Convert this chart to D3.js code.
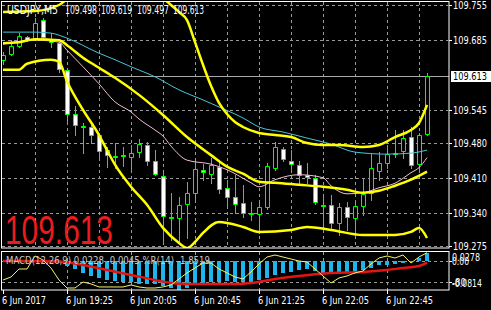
<!DOCTYPE html>
<html>
<head>
<meta charset="utf-8">
<script src="https://cdn.jsdelivr.net/npm/d3@7"></script>
<style>
body{margin:0;background:#000;}
svg{display:block;font-family:"DejaVu Sans",sans-serif;}
</style>
</head>
<body>
<script>
// bars, 5 min each, 18:45 .. 23:10
const opens  = [109.645,109.657,109.673,109.691,109.687,109.725,109.687,109.679,109.625,109.538,109.514,109.512,109.496,109.466,109.454,109.456,109.452,109.462,109.476,109.444,109.414,109.332,109.330,109.358,109.380,109.426,109.418,109.432,109.390,109.372,109.360,109.340,109.338,109.352,109.430,109.468,109.444,109.436,109.416,109.410,109.356,109.356,109.320,109.352,109.330,109.354,109.380,109.424,109.440,109.458,109.464,109.492,109.438,109.498];
const highs  = [109.661,109.685,109.699,109.693,109.729,109.729,109.699,109.681,109.629,109.554,109.520,109.516,109.500,109.472,109.480,109.472,109.476,109.488,109.482,109.466,109.424,109.380,109.372,109.402,109.446,109.438,109.450,109.440,109.406,109.416,109.397,109.362,109.366,109.440,109.482,109.472,109.466,109.444,109.440,109.416,109.376,109.376,109.360,109.362,109.362,109.410,109.458,109.462,109.476,109.506,109.506,109.512,109.500,109.619];
const lows   = [109.637,109.655,109.671,109.683,109.685,109.689,109.671,109.621,109.520,109.496,109.460,109.480,109.448,109.432,109.430,109.434,109.422,109.452,109.436,109.416,109.280,109.286,109.280,109.290,109.364,109.406,109.400,109.380,109.352,109.340,109.332,109.326,109.300,109.348,109.426,109.444,109.426,109.400,109.400,109.358,109.312,109.306,109.296,109.306,109.295,109.336,109.366,109.406,109.430,109.452,109.450,109.430,109.424,109.497];
const closes = [109.655,109.673,109.693,109.685,109.719,109.691,109.681,109.627,109.538,109.516,109.512,109.496,109.464,109.456,109.452,109.454,109.460,109.478,109.444,109.418,109.334,109.330,109.356,109.380,109.428,109.422,109.436,109.388,109.372,109.358,109.340,109.338,109.352,109.434,109.472,109.448,109.438,109.416,109.412,109.362,109.354,109.320,109.352,109.332,109.354,109.378,109.430,109.440,109.458,109.460,109.490,109.436,109.496,109.613];

// indicator lines, [bar, value]
const bbUpper = [[0,109.741],[4,109.743],[7,109.755],[8,109.767],[10,109.800],[12,109.818],[14,109.825],[16,109.815],[18,109.795],[20,109.769],[21,109.755],[22,109.741],[23,109.725],[24,109.681],[25,109.636],[26,109.594],[27,109.560],[28,109.538],[29,109.522],[30,109.512],[32,109.500],[34,109.496],[36,109.492],[38,109.480],[40,109.476],[42,109.476],[45,109.472],[47,109.476],[49,109.492],[51,109.506],[52,109.520],[53,109.556]];
const bbMiddle = [[0,109.679],[2,109.681],[4,109.687],[7,109.685],[8,109.675],[10,109.650],[12,109.630],[14,109.610],[17,109.576],[20,109.536],[23,109.492],[26,109.456],[28,109.433],[30,109.419],[32,109.403],[34,109.401],[37,109.397],[40,109.393],[43,109.387],[45,109.381],[47,109.385],[49,109.395],[51,109.407],[53,109.423]];
const bbLower = [[0,109.626],[2,109.626],[3,109.638],[6,109.646],[7,109.642],[8,109.603],[10,109.546],[12,109.496],[13,109.466],[14,109.437],[16,109.393],[18,109.357],[20,109.311],[22,109.281],[23,109.271],[24,109.283],[25,109.301],[27,109.323],[30,109.313],[32,109.303],[36,109.307],[38,109.313],[41,109.307],[45,109.297],[49,109.297],[51,109.303],[52,109.311],[53,109.291]];
const maCyan = [[0,109.701],[4,109.701],[6,109.699],[8,109.689],[12,109.659],[14,109.646],[16,109.632],[19,109.612],[22,109.586],[25,109.566],[27,109.552],[30,109.530],[32,109.512],[35,109.502],[38,109.490],[41,109.478],[44,109.462],[48,109.458],[51,109.460],[53,109.466]];
const maPink = [[0,109.677],[4,109.685],[7,109.681],[8,109.665],[10,109.632],[12,109.598],[14,109.562],[16,109.542],[17,109.528],[19,109.506],[20,109.494],[21,109.474],[23,109.446],[26,109.438],[28,109.427],[31,109.401],[32,109.393],[34,109.407],[37,109.417],[40,109.411],[41,109.395],[43,109.379],[45,109.381],[47,109.391],[49,109.400],[51,109.421],[52,109.431],[53,109.451]];

// MACD(12,26,9) histogram per bar, signal [bar, value], %R(14) per bar
const macdHist = [0.001,0.001,0.002,0.002,0.003,0.003,0.002,-0.003,-0.0140,-0.0224,-0.0336,-0.0406,-0.0476,-0.0518,-0.0546,-0.0588,-0.0588,-0.0644,-0.0630,-0.0644,-0.0686,-0.0742,-0.0814,-0.0756,-0.0672,-0.0616,-0.0602,-0.0574,-0.0560,-0.0574,-0.0588,-0.0588,-0.0532,-0.0462,-0.0378,-0.0350,-0.0294,-0.0238,-0.0210,-0.0280,-0.0336,-0.0336,-0.0336,-0.0336,-0.0308,-0.0252,-0.0196,-0.0112,-0.0112,-0.0070,-0.0042,-0.0014,0.0084,0.0228];
const macdSignal = [[0,0.0],[7,-0.0014],[10,-0.0112],[13,-0.0252],[16,-0.0392],[19,-0.0532],[21,-0.0616],[23,-0.0644],[29,-0.0644],[31,-0.0616],[34,-0.0504],[37,-0.0420],[41,-0.0336],[45,-0.0308],[48,-0.0252],[50,-0.0196],[52,-0.0140],[53,-0.0045]];
const williamsR = [-73.7,-65.8,-44.7,-44.7,-10.5,-21,-42,-73.7,-94.7,-94.7,-79,-84,-92,-92,-92,-92,-86.8,-92,-94.7,-94.7,-92,-86.8,-71,-55,-42,-29,-29,-44.7,-55,-65.8,-71,-52.6,-31.6,-13.2,-7.9,-13.2,-18.4,-23.7,-26.3,-44.7,-63,-81.6,-68.4,-63,-55,-50,-31.6,-15.8,-10.5,-15.8,-7.9,-29,-13.2,-1.85];

const priceTicks = [109.755,109.685,109.545,109.480,109.410,109.340,109.275];
const bidPrice = 109.613;
const timeBars = [0,8,16,24,32,40,48];
const timeLabels = ["6 Jun 2017","6 Jun 19:25","6 Jun 20:05","6 Jun 20:45","6 Jun 21:25","6 Jun 22:05","6 Jun 22:45"];
const headerParts = ["USDJPY,M5","109.498","109.619","109.497","109.613"];
const macdLabel = "MACD(12,26,9) 0.0228 -0.0045 %R(14) -1.8519";

const W = 491, H = 310;
const gridCol = "#9a9a9a";

const svg = d3.select("body").append("svg")
  .attr("width", W).attr("height", H);

svg.append("rect").attr("width", W).attr("height", H).attr("fill", "#000");

const x = d3.scaleLinear().domain([0, 53]).range([3, 427]);
const y = d3.scaleLinear().domain([109.275, 109.755]).range([246, 5]);
const ym = d3.scaleLinear().domain([-0.0814, 0.0278]).range([290, 251]);
const yr = d3.scaleLinear().domain([-100, 0]).range([290, 252]);

const defs = svg.append("defs");
defs.append("clipPath").attr("id", "clipMain")
  .append("rect").attr("x", 2).attr("y", 2).attr("width", 447).attr("height", 246);
defs.append("clipPath").attr("id", "clipSub")
  .append("rect").attr("x", 2).attr("y", 252).attr("width", 447).attr("height", 38);

const main = svg.append("g").attr("clip-path", "url(#clipMain)");

// grid
main.selectAll(".hgrid").data(priceTicks).enter().append("line")
  .attr("x1", 2).attr("x2", 448)
  .attr("y1", d => Math.round(y(d)) + 0.5).attr("y2", d => Math.round(y(d)) + 0.5)
  .attr("stroke", gridCol).attr("stroke-dasharray", "3,3");

const vBars = d3.range(4, 54, 4);
main.selectAll(".vgrid").data(vBars).enter().append("line")
  .attr("x1", d => Math.round(x(d)) + 0.5).attr("x2", d => Math.round(x(d)) + 0.5)
  .attr("y1", 2).attr("y2", 248)
  .attr("stroke", gridCol).attr("stroke-dasharray", "3,3");

// bid line
main.append("line")
  .attr("x1", 2).attr("x2", 449)
  .attr("y1", Math.round(y(bidPrice)) + 0.5).attr("y2", Math.round(y(bidPrice)) + 0.5)
  .attr("stroke", "#a8a8a8");

// candles
const bars = d3.range(opens.length);
const cg = main.append("g");
cg.selectAll(".wick").data(bars).enter().append("line")
  .attr("x1", i => Math.round(x(i)) + 0.5).attr("x2", i => Math.round(x(i)) + 0.5)
  .attr("y1", i => Math.round(y(highs[i]))).attr("y2", i => Math.round(y(lows[i])) + 1)
  .attr("stroke", "#00ff00");

cg.selectAll(".body").data(bars).enter().append("path")
  .attr("d", i => {
    const cx = Math.round(x(i));
    const t = Math.round(y(Math.max(opens[i], closes[i]))) + 0.5;
    const b = Math.round(y(Math.min(opens[i], closes[i]))) + 0.5;
    return `M${cx - 1.5},${t}H${cx + 2.5}V${b}H${cx - 1.5}Z`;
  })
  .attr("fill", i => closes[i] >= opens[i] ? "#000" : "#fff")
  .attr("stroke", "#00ff00");

// indicators
const line = d3.line().x(d => x(d[0])).y(d => y(d[1])).curve(d3.curveMonotoneX);
main.append("path").datum(maCyan).attr("d", line)
  .attr("fill", "none").attr("stroke", "#46c6d6").attr("stroke-width", 1);
main.append("path").datum(maPink).attr("d", line)
  .attr("fill", "none").attr("stroke", "#eebdd0").attr("stroke-width", 1);
[bbUpper, bbMiddle, bbLower].forEach(s => {
  main.append("path").datum(s).attr("d", line)
    .attr("fill", "none").attr("stroke", "#ffff00").attr("stroke-width", 2.5)
    .attr("stroke-linejoin", "round");
});

// big price
svg.append("text")
  .attr("x", 5).attr("y", 244)
  .attr("font-family", "'Liberation Sans', Arial, sans-serif")
  .attr("font-size", 41)
  .attr("textLength", 108).attr("lengthAdjust", "spacingAndGlyphs")
  .attr("fill", "#ec1c1c")
  .text(bidPrice.toFixed(3));

// header
const headerX = [7, 65, 101, 137, 173];
const headerLen = [51, 32, 31, 32, 31];
svg.selectAll(".hdr").data(headerParts).enter().append("text")
  .attr("x", (d, i) => headerX[i]).attr("y", 14)
  .attr("font-size", 11.5)
  .attr("textLength", (d, i) => headerLen[i]).attr("lengthAdjust", "spacingAndGlyphs")
  .attr("fill", "#fff")
  .text(d => d);

// frames
svg.append("rect").attr("x", 1.5).attr("y", 1.5).attr("width", 447.5).attr("height", 246.5)
  .attr("fill", "none").attr("stroke", "#fff");

// price axis
svg.selectAll(".ptick").data(priceTicks).enter().append("line")
  .attr("x1", 449).attr("x2", 452)
  .attr("y1", d => Math.round(y(d)) + 0.5).attr("y2", d => Math.round(y(d)) + 0.5)
  .attr("stroke", "#fff");
svg.selectAll(".plab").data(priceTicks).enter().append("text")
  .attr("x", 453).attr("y", d => y(d) + 4)
  .attr("font-size", 11)
  .attr("textLength", 34).attr("lengthAdjust", "spacingAndGlyphs")
  .attr("fill", "#fff")
  .text(d => d.toFixed(3));

svg.append("rect").attr("x", 451).attr("y", Math.round(y(bidPrice)) - 5)
  .attr("width", 40).attr("height", 11).attr("fill", "#fff");
svg.append("text")
  .attr("x", 453).attr("y", y(bidPrice) + 4)
  .attr("font-size", 11)
  .attr("textLength", 34).attr("lengthAdjust", "spacingAndGlyphs")
  .attr("fill", "#000")
  .text(bidPrice.toFixed(3));

// MACD sub window
const sub = svg.append("g").attr("clip-path", "url(#clipSub)");
[0, -80].forEach((lv, k) => {
  const yy = k === 0 ? Math.round(ym(lv)) + 0.5 : Math.round(yr(lv)) + 0.5;
  sub.append("line").attr("x1", 2).attr("x2", 448).attr("y1", yy).attr("y2", yy)
    .attr("stroke", gridCol).attr("stroke-dasharray", "3,3");
});
sub.selectAll(".svgrid").data(timeBars.slice(1)).enter().append("line")
  .attr("x1", d => Math.round(x(d)) + 0.5).attr("x2", d => Math.round(x(d)) + 0.5)
  .attr("y1", 252).attr("y2", 290)
  .attr("stroke", gridCol).attr("stroke-dasharray", "3,3");

sub.selectAll(".hist").data(bars).enter().append("rect")
  .attr("x", i => Math.round(x(i)) - 2)
  .attr("width", 4)
  .attr("y", i => Math.round(Math.min(ym(macdHist[i]), ym(0))))
  .attr("height", i => Math.max(1, Math.round(Math.abs(ym(macdHist[i]) - ym(0)))))
  .attr("fill", "#1eb4ec");

sub.append("path").datum(macdSignal)
  .attr("d", d3.line().x(d => x(d[0])).y(d => ym(d[1])).curve(d3.curveMonotoneX))
  .attr("fill", "none").attr("stroke", "#e41414").attr("stroke-width", 2.5);

sub.append("path").datum(williamsR)
  .attr("d", d3.line().x((d, i) => x(i)).y(d => yr(d)))
  .attr("fill", "none").attr("stroke", "#f4f46a").attr("stroke-width", 1);

svg.append("text")
  .attr("x", 6).attr("y", 264)
  .attr("font-size", 11)
  .attr("textLength", 204).attr("lengthAdjust", "spacingAndGlyphs")
  .attr("fill", "#c8c8c8")
  .text(macdLabel);

svg.append("rect").attr("x", 1.5).attr("y", 251.5).attr("width", 447.5).attr("height", 38.5)
  .attr("fill", "none").attr("stroke", "#fff");

// sub axis labels
const subLabels = [
  {t: "0.0278", yy: ym(0.0278) + 10, len: 28},
  {t: "0.00", yy: ym(0) + 4, len: 17},
  {t: "-80", yy: yr(-80) + 4, len: 14},
  {t: "-0.0814", yy: ym(-0.0814) - 3, len: 30}
];
svg.selectAll(".slab").data(subLabels).enter().append("text")
  .attr("x", 452).attr("y", d => d.yy)
  .attr("font-size", 11)
  .attr("textLength", d => d.len).attr("lengthAdjust", "spacingAndGlyphs")
  .attr("fill", "#fff")
  .text(d => d.t);
svg.selectAll(".stick").data([ym(0), yr(-80)]).enter().append("line")
  .attr("x1", 449).attr("x2", 452)
  .attr("y1", d => Math.round(d) + 0.5).attr("y2", d => Math.round(d) + 0.5)
  .attr("stroke", "#fff");

// time axis
svg.selectAll(".ttick").data(timeBars).enter().append("line")
  .attr("x1", d => Math.round(x(d)) + 0.5).attr("x2", d => Math.round(x(d)) + 0.5)
  .attr("y1", 290).attr("y2", 294)
  .attr("stroke", "#fff");
svg.selectAll(".tlab").data(timeLabels).enter().append("text")
  .attr("x", (d, i) => Math.round(x(timeBars[i])) - 1).attr("y", 304)
  .attr("font-size", 11)
  .attr("textLength", (d, i) => i === 0 ? 44 : 47).attr("lengthAdjust", "spacingAndGlyphs")
  .attr("fill", "#fff")
  .text(d => d);
</script>
</body>
</html>
